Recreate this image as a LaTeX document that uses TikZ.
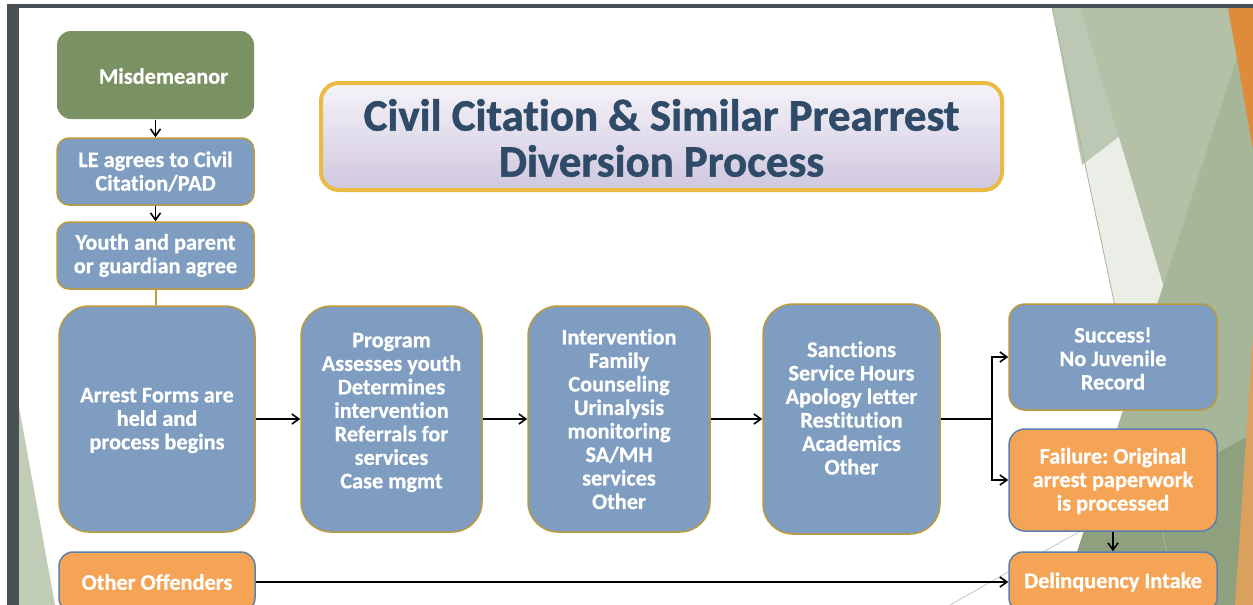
\documentclass[tikz,border=0pt]{standalone}
\usepackage{fontspec}
\setmainfont{Carlito}[Ligatures={NoCommon}, BoldFeatures={FakeBold=0.6}]
\newfontfamily\titlefont{Carlito}[Ligatures={NoCommon}, BoldFeatures={FakeBold=1.2}]
\frenchspacing
\usetikzlibrary{arrows.meta}
\definecolor{boxblue}{HTML}{7E9DC0}
\definecolor{boxgold}{HTML}{BE9A3E}
\definecolor{goldline}{HTML}{C29E45}
\definecolor{boxgreen}{HTML}{7A9164}
\definecolor{boxorange}{HTML}{F5A456}
\definecolor{orangeedge}{HTML}{5A80AE}
\definecolor{titletext}{HTML}{2F4B68}
\definecolor{titleedge}{HTML}{EBBA42}
\definecolor{titletop}{HTML}{F5F3F9}
\definecolor{titlebot}{HTML}{CFC7DF}
\definecolor{darkband}{HTML}{4B5055}
\definecolor{gpale}{HTML}{EAEEE7}
\definecolor{glight}{HTML}{BCC8B3}
\definecolor{gmid}{HTML}{B4C1A7}
\definecolor{gdeep}{HTML}{A6B799}
\definecolor{gdark}{HTML}{8FA07F}
\definecolor{gleft}{HTML}{C0CCB5}
\definecolor{orangetop}{HTML}{DE8B3C}
\definecolor{orangelow}{HTML}{D9A05E}
\begin{document}
\begin{tikzpicture}[x=1pt,y=-1pt,
  box/.style={draw=boxgold, line width=1.5pt, fill=boxblue, inner sep=0pt},
  obox/.style={draw=orangeedge, line width=1.5pt, fill=boxorange, inner sep=0pt},
  txt/.style={text=white, font=\bfseries\fontsize{22.3}{23.5}\selectfont, align=center, inner sep=0pt},
  arr/.style={draw=black, line width=1.6pt, -{Straight Barb[length=7pt,width=10pt]}},
  plainline/.style={draw=black, line width=1.6pt},
  goldconn/.style={draw=goldline, line width=2pt},
]
\useasboundingbox (0,0) rectangle (1253,605);
\clip (0,0) rectangle (1253,605);
% background
\fill[white] (0,0) rectangle (1253,605);
\fill[gpale] (1052,7.5) -- (1080,7.5) -- (1253,584) -- (1253,605) -- (1178,605) -- cycle;
\fill[glight] (1052,7.5) -- (1080,7.5) -- (1121,135) -- (1082,165) -- cycle;
\fill[gmid] (1080,7.5) -- (1253,7.5) -- (1253,584) -- cycle;
\fill[gdeep] (1253,7.5) -- (1253,605) -- (1060,605) -- cycle;
\fill[gdark] (1084.7,528.5) -- (1253,433) -- (1253,605) -- (1060,605) -- cycle;
\draw[color=gleft, line width=0.8pt] (950,605) -- (1084.7,528.5);
\draw[color=gdeep, line width=0.8pt] (1052,7.5) -- (1178,605);
\fill[orangetop] (1228,7.5) -- (1253,7.5) -- (1253,150) -- cycle;
\fill[orangelow] (1253,335) -- (1253,605) -- (1235,605) -- cycle;
\fill[gleft] (19,407) -- (55,605) -- (19,605) -- cycle;
\fill[darkband] (7,3.5) rectangle (1253,7.5);
\fill[darkband] (7,3.5) rectangle (19,605);
% title
\node[draw=titleedge, line width=4pt, rounded corners=18pt, top color=titletop, bottom color=titlebot, minimum width=681pt, minimum height=107pt, inner sep=0pt] (title) at (661.5,136.5) {};
\node[font=\titlefont\bfseries\fontsize{44.8}{46}\selectfont, text=titletext, align=center, inner sep=0pt] (titlet) at ([yshift=-1.5pt]title.center) {Civil Citation \& Similar Prearrest\\Diversion Process};
% boxes
\node[box, draw=none, fill=boxgreen, minimum width=197pt, minimum height=88pt, rounded corners=14pt] (mis) at (155.5,75) {};
\node[txt] (mist) at ([xshift=8pt,yshift=-1pt]mis.center) {Misdemeanor};
\node[box, minimum width=197pt, minimum height=67pt, rounded corners=12pt] (le) at (155.5,171.5) {};
\node[txt] (let) at (le.center) {LE agrees to Civil\\Citation/PAD};
\node[box, minimum width=197pt, minimum height=67pt, rounded corners=12pt] (youth) at (155.5,255.5) {};
\node[txt] (youtht) at (youth.center) {Youth and parent\\or guardian agree};
\node[box, minimum width=196pt, minimum height=226pt, rounded corners=30pt] (arrest) at (157,419) {};
\node[txt] (arrestt) at ([yshift=-1.5pt]arrest.center) {Arrest Forms are\\held and\\process begins};
\node[box, minimum width=181pt, minimum height=226pt, rounded corners=30pt] (prog) at (391.5,419) {};
\node[txt] (progt) at ([yshift=6.5pt]prog.center) {Program\\Assesses youth\\Determines\\intervention\\Referrals for\\services\\Case mgmt};
\node[box, minimum width=182pt, minimum height=226pt, rounded corners=30pt] (interv) at (619,419) {};
\node[txt] (intervt) at (interv.center) {Intervention\\Family\\Counseling\\Urinalysis\\monitoring\\SA/MH\\services\\Other};
\node[box, minimum width=177pt, minimum height=230pt, rounded corners=30pt] (sanc) at (851.5,419) {};
\node[txt] (sanct) at ([yshift=11pt]sanc.center) {Sanctions\\Service Hours\\Apology letter\\Restitution\\Academics\\Other};
\node[box, minimum width=208pt, minimum height=106pt, rounded corners=16pt] (succ) at (1113,357) {};
\node[txt] (succt) at ([yshift=-1.5pt]succ.center) {Success!\\No Juvenile\\Record};
\node[obox, minimum width=208pt, minimum height=102pt, rounded corners=16pt] (fail) at (1113,480) {};
\node[txt] (failt) at ([yshift=-1pt]fail.center) {Failure: Original\\arrest paperwork\\is processed};
\node[obox, minimum width=208pt, minimum height=60pt, rounded corners=14pt] (delinq) at (1113,582) {};
\node[txt] (delinqt) at (delinq.center) {Delinquency Intake};
\node[obox, minimum width=196pt, minimum height=60pt, rounded corners=14pt] (other) at (157,582) {};
\node[txt] (othert) at (other.center) {Other Offenders};
% connectors
\draw[arr] (mis.south) -- (le.north);
\draw[arr] (le.south) -- (youth.north);
\draw[goldconn] (youth.south) -- (youth.south |- arrest.north);
\draw[arr] (arrest.east) -- (prog.west);
\draw[arr] (prog.east) -- (interv.west);
\draw[arr] (interv.east) -- (sanc.west);
\coordinate (split) at (992,419);
\draw[plainline] (sanc.east) -- (split);
\draw[arr] (split) |- (succ.west);
\draw[arr] (split) |- (fail.west);
\draw[arr] (fail.south) -- (delinq.north);
\draw[arr] (other.east) -- (delinq.west);
\end{tikzpicture}
\end{document}
